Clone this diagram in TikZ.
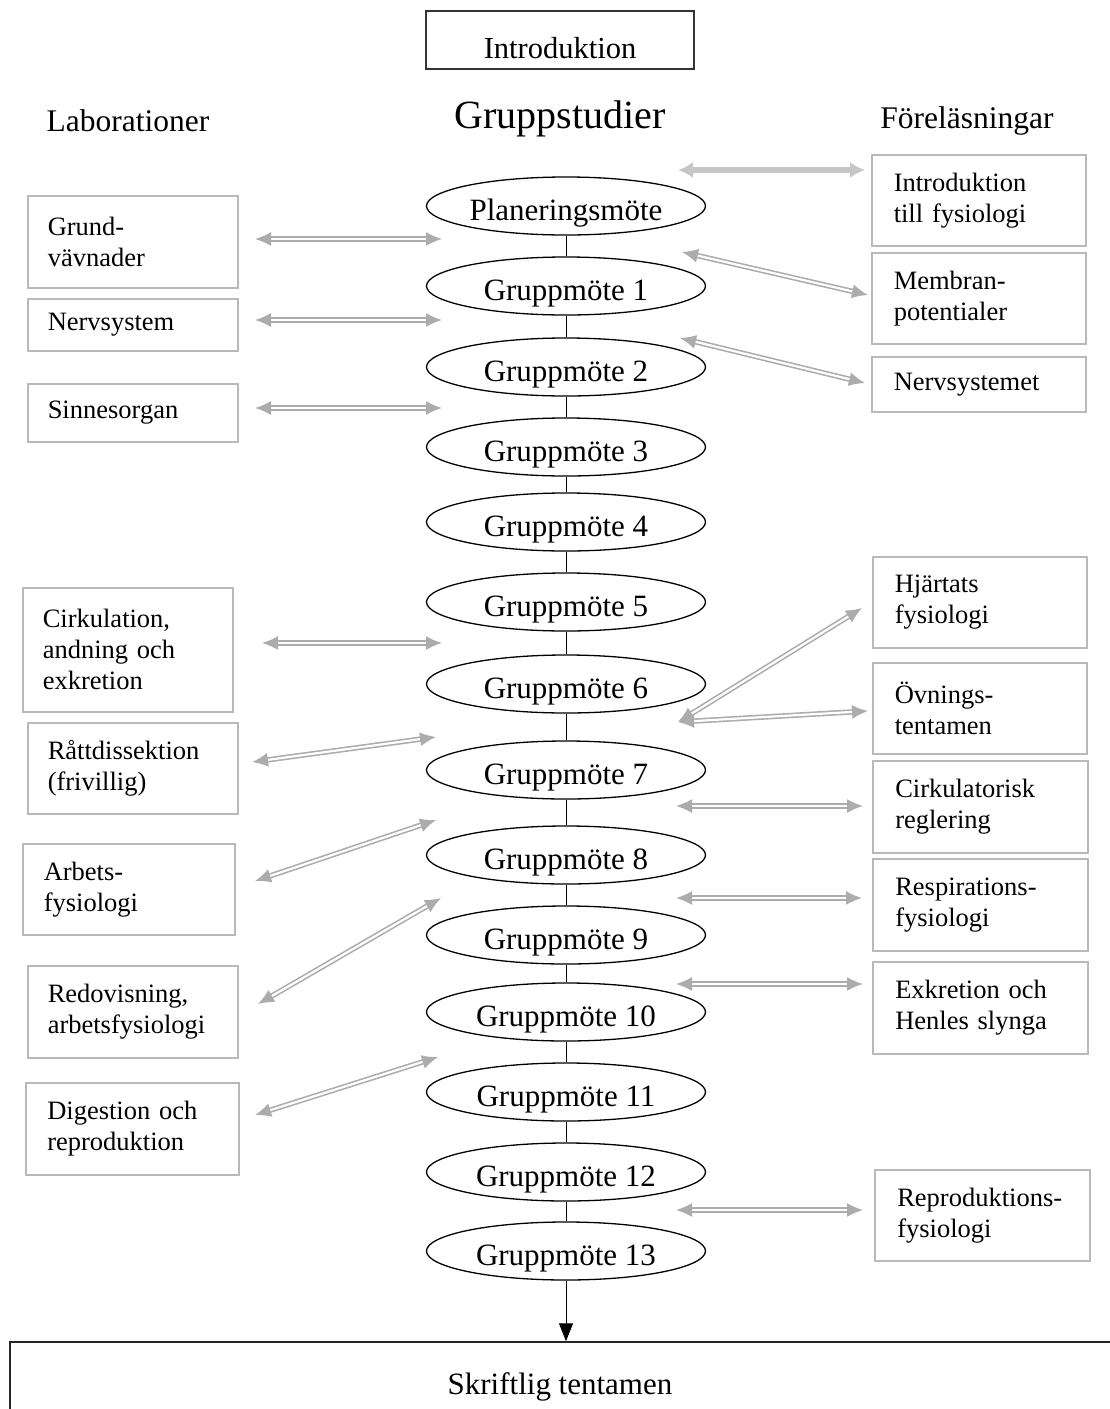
\documentclass[tikz,border=0pt]{standalone}
\usepackage{fontspec}
\setmainfont{Liberation Serif}
\usetikzlibrary{shapes.geometric,arrows.meta}
\begin{document}
\begin{tikzpicture}[x=1pt,y=-1pt,
  ell/.style={ellipse,draw=black,line width=1.3pt,minimum width=279pt,minimum height=58pt,inner sep=0pt,
    text height=28pt,text depth=0pt,font=\fontsize{31}{36}\selectfont},
  lbox/.style 2 args={draw=gray!55,line width=1.5pt,anchor=north west,inner xsep=20pt,inner ysep=0pt,
    align=left,text width=170pt,minimum width=#1,minimum height=#2,font=\fontsize{26.5}{31}\selectfont},
  rbox/.style 2 args={draw=gray!55,line width=1.5pt,anchor=north west,inner xsep=22pt,inner ysep=0pt,
    align=left,text width=170pt,minimum width=#1,minimum height=#2,font=\fontsize{26.5}{31}\selectfont},
  head/.style={font=\fontsize{31.5}{36}\selectfont},
  dbl/.style={draw=gray!65,double=white,double distance=2.2pt,line width=1.6pt,
    {Latex[length=16pt,width=14pt]}-{Latex[length=16pt,width=14pt]}},
  thick grey/.style={draw=gray!45,line width=6pt,
    {Latex[length=15pt,width=16pt]}-{Latex[length=15pt,width=16pt]}},
  link/.style={draw=black,line width=1pt}
]
\useasboundingbox[fill=white] (0,0) rectangle (1110,1409);

% top
\node[draw=black!80,line width=1.5pt,minimum width=268pt,minimum height=58pt,inner sep=0pt,
  text height=36pt,text depth=0pt,font=\fontsize{30.5}{36}\selectfont] (intro) at (560,40) {Introduktion};
\node[font=\fontsize{40}{46}\selectfont] (grupp) at (560,119) {Gruppstudier};
\node[head] (lab) at (128,121) {Laborationer};
\node[head] (fore) at (967,121) {Föreläsningar};

% ellipses
\node[ell] (e0) at (566,206) {Planeringsmöte};
\node[ell] (e1) at (566,286) {Gruppmöte 1};
\node[ell] (e2) at (566,367) {Gruppmöte 2};
\node[ell] (e3) at (566,447) {Gruppmöte 3};
\node[ell] (e4) at (566,522) {Gruppmöte 4};
\node[ell] (e5) at (566,602) {Gruppmöte 5};
\node[ell] (e6) at (566,684) {Gruppmöte 6};
\node[ell] (e7) at (566,770) {Gruppmöte 7};
\node[ell] (e8) at (566,855) {Gruppmöte 8};
\node[ell] (e9) at (566,935) {Gruppmöte 9};
\node[ell] (e10) at (566,1012) {Gruppmöte 10};
\node[ell] (e11) at (566,1092) {Gruppmöte 11};
\node[ell] (e12) at (566,1172) {Gruppmöte 12};
\node[ell] (e13) at (566,1251) {Gruppmöte 13};

\foreach \a/\b in {0/1,1/2,2/3,3/4,4/5,5/6,6/7,7/8,8/9,9/10,10/11,11/12,12/13}
  \draw[link] (e\a) -- (e\b);

% exam
\node[draw=black!85,line width=1.5pt,minimum width=1112pt,minimum height=84pt,inner sep=0pt,
  text height=21pt,text depth=0pt,font=\fontsize{31}{36}\selectfont] (exam) at (566,1384) {\hspace*{-12pt}Skriftlig tentamen};
\draw[link,-{Triangle[length=18pt,width=14pt]}] (e13) -- (e13 |- exam.north);

% left boxes
\node[lbox={209pt}{92pt}] (L1) at (27,195) {Grund-\\vävnader};
\node[lbox={209pt}{52pt}] (L2) at (27,298) {Nervsystem};
\node[lbox={209pt}{58pt}] (L3) at (27,383) {Sinnesorgan};
\node[lbox={210pt}{124pt}] (L4) at (22,587) {Cirkulation,\\andning och\\exkretion};
\node[lbox={209pt}{91pt}] (L5) at (27,722) {Råttdissektion\\(frivillig)};
\node[lbox={212pt}{91pt}] (L6) at (22,843) {Arbets-\\fysiologi};
\node[lbox={209pt}{92pt}] (L7) at (27,965) {Redovisning,\\arbetsfysiologi};
\node[lbox={213pt}{92pt}] (L8) at (25,1082) {Digestion och\\reproduktion};

% right boxes
\node[rbox={213pt}{91pt}] (R1) at (871,154) {Introduktion\\till fysiologi};
\node[rbox={213pt}{91pt}] (R2) at (871,252) {Membran-\\potentialer};
\node[rbox={213pt}{55pt}] (R3) at (871,356) {Nervsystemet};
\node[rbox={214pt}{91pt}] (R4) at (872,556) {Hjärtats\\fysiologi};
\node[rbox={214pt}{91pt}] (R5) at (872,662) {Övnings-\\tentamen};
\node[rbox={215pt}{92pt}] (R6) at (872,760) {Cirkulatorisk\\reglering};
\node[rbox={215pt}{92pt}] (R7) at (872,858) {Respirations-\\fysiologi};
\node[rbox={215pt}{92pt}] (R8) at (872,961) {Exkretion och\\Henles slynga};
\node[rbox={215pt}{91pt}] (R9) at (874,1169) {Reproduktions-\\fysiologi};

% arrow end points
\coordinate (la1) at (255,239); \coordinate (lb1) at (442,239);
\coordinate (la2) at (255,320); \coordinate (lb2) at (442,320);
\coordinate (la3) at (255,408); \coordinate (lb3) at (442,408);
\coordinate (la4) at (262,643); \coordinate (lb4) at (442,643);
\coordinate (la5) at (252,762); \coordinate (lb5) at (436,737);
\coordinate (la6) at (255,881); \coordinate (lb6) at (436,820);
\coordinate (la7) at (258,1004); \coordinate (lb7) at (441,898);
\coordinate (la8) at (255,1115); \coordinate (lb8) at (438,1057);

\coordinate (ra1) at (678,170); \coordinate (rb1) at (865,170);
\coordinate (ra2) at (682,252); \coordinate (rb2) at (868,295);
\coordinate (ra3) at (680,338); \coordinate (rb3) at (865,383);
\coordinate (ra4) at (678,722); \coordinate (rb4) at (862,608);
\coordinate (ra5) at (678,722); \coordinate (rb5) at (868,711);
\coordinate (ra6) at (676,806); \coordinate (rb6) at (863,806);
\coordinate (ra7) at (676,898); \coordinate (rb7) at (862,898);
\coordinate (ra8) at (676,984); \coordinate (rb8) at (863,984);
\coordinate (ra9) at (676,1210); \coordinate (rb9) at (863,1210);

\foreach \i in {1,...,8} \draw[dbl] (la\i) -- (lb\i);
\draw[thick grey] (ra1) -- (rb1);
\foreach \i in {2,...,9} \draw[dbl] (ra\i) -- (rb\i);
\end{tikzpicture}
\end{document}
